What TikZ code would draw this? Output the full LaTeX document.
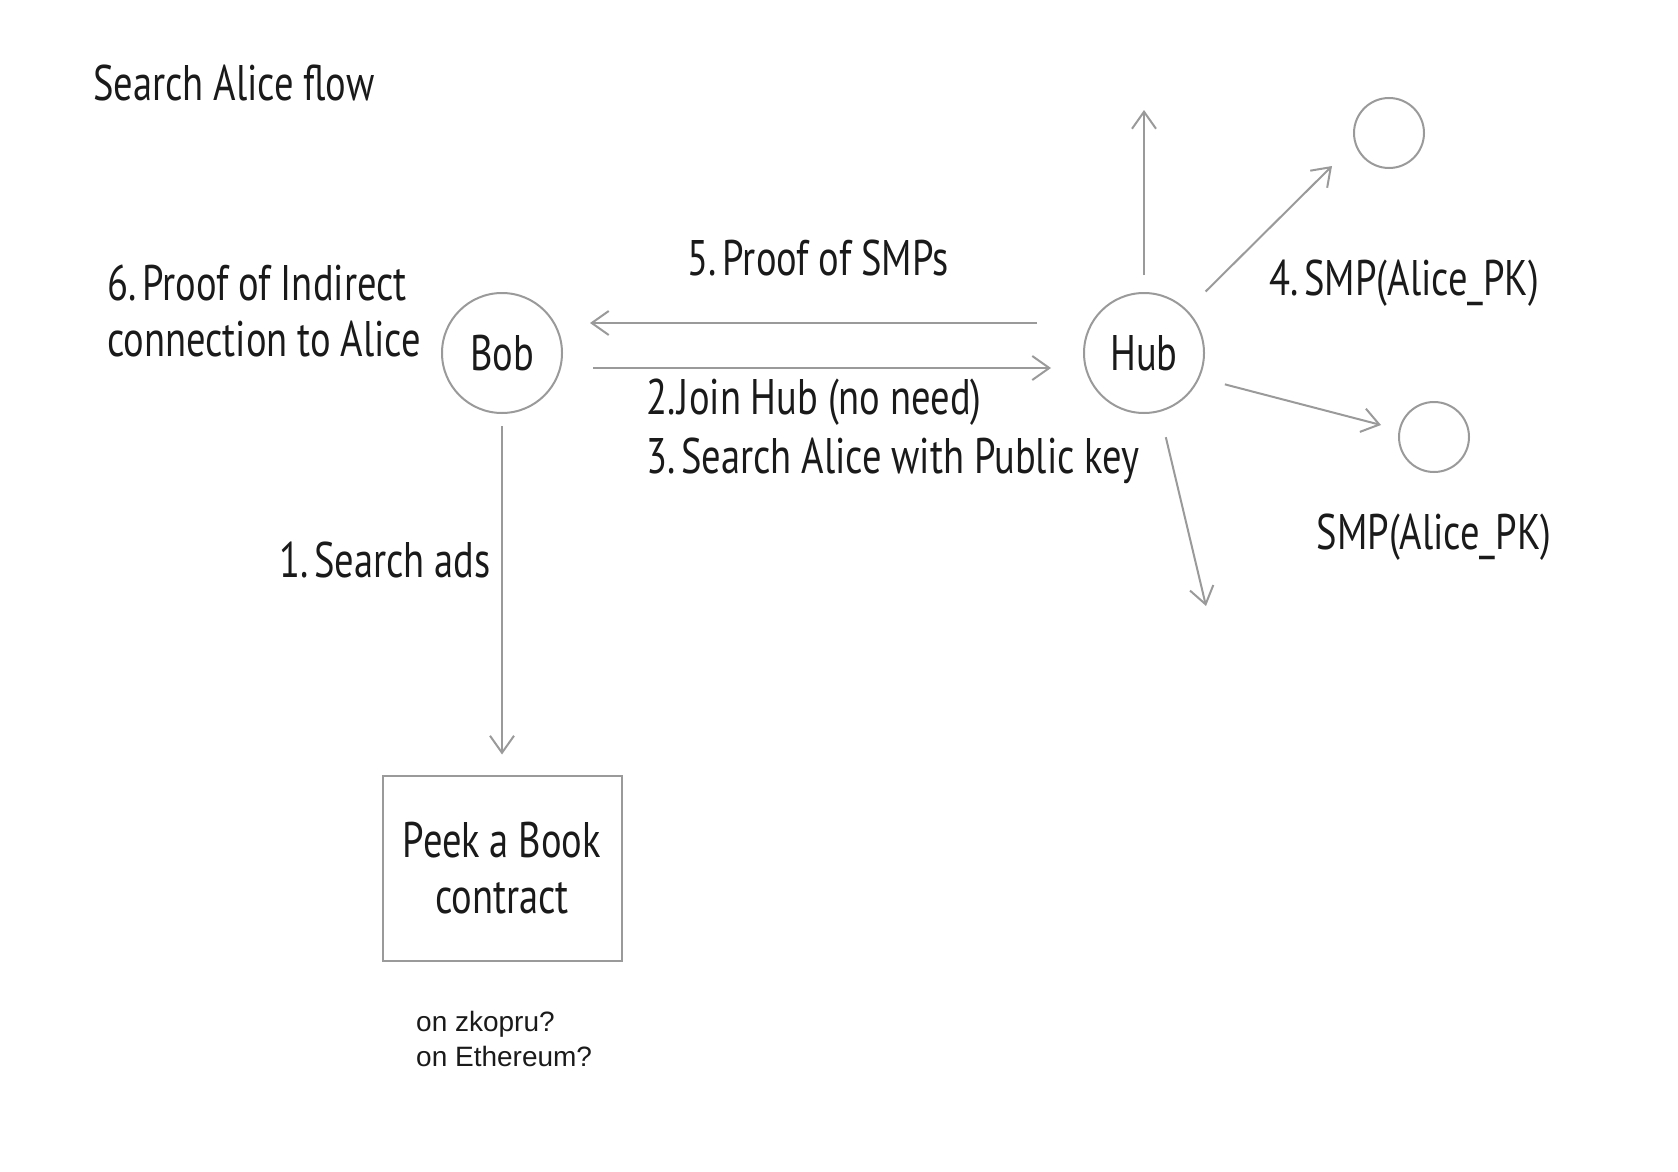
\documentclass[tikz,border=0pt]{standalone}
\usepackage{fontspec}
\setmainfont{PT Sans}[FakeStretch=0.77, WordSpace=0.95]
\newfontfamily\notefont{Liberation Sans}
\usetikzlibrary{arrows.meta}

\definecolor{linegray}{HTML}{9A9A9A}
\definecolor{inkblack}{HTML}{1A1A1A}

\tikzset{
  bigtext/.style={text=inkblack, inner sep=0pt, font=\fontsize{50}{56}\selectfont},
  peer/.style={circle, draw=linegray, line width=2pt, inner sep=0pt, minimum size=120pt, bigtext},
  leaf/.style={circle, draw=linegray, line width=2pt, inner sep=0pt, minimum size=70pt},
  contract/.style={rectangle, draw=linegray, line width=2pt, minimum width=239pt, minimum height=185pt, align=center, bigtext},
  msg/.style={draw=linegray, line width=2pt, -{Straight Barb[length=17pt,width=24pt,line width=2pt]}},
  note/.style={text=inkblack, inner sep=0pt, align=left, font=\notefont\fontsize{28}{35}\selectfont}
}

\begin{document}
\begin{tikzpicture}[x=1pt, y=-1pt]
\useasboundingbox (0,0) rectangle (1678,1172);

\node[bigtext, anchor=base west] (title) at (93,100) {Search Alice flow};

\node[peer] (Bob) at (502,353) {Bob};
\node[peer] (Hub) at (1144,353) {Hub};
\node[leaf] (leafA) at (1389,133) {};
\node[leaf] (leafB) at (1434,437) {};
\node[contract] (Book) at (502,868) {Peek a Book\\contract};

\coordinate (upEnd) at (1144,110);
\coordinate (neEnd) at (1332,166);
\coordinate (eEnd) at (1381,425);
\coordinate (dnEnd) at (1206,606);

% Bob <-> Hub
\draw[msg, shorten <=46pt, shorten >=27pt] ([yshift=30pt]Hub.west) -- ([yshift=30pt]Bob.east);
\draw[msg, shorten <=30pt, shorten >=32pt] ([yshift=-15pt]Bob.east) -- ([yshift=-15pt]Hub.west);
\draw[msg, shorten <=12pt, shorten >=20pt] (Bob.south) -- (Book.north);

% Hub fan out
\draw[msg, shorten <=17pt] (Hub.north) -- (upEnd);
\draw[msg, shorten <=26pt] (Hub.45) -- (neEnd);
\draw[msg, shorten <=26pt] (Hub.-24) -- (eEnd);
\draw[msg, shorten <=26pt] (Hub.-75) -- (dnEnd);

\node[bigtext, anchor=base west] (step6a) at (107,300) {6.\hspace{0.12em}Proof of Indirect};
\node[bigtext, anchor=base west] (step6b) at (107,356) {connection to Alice};
\node[bigtext, anchor=base] (step5) at (818,275) {5.\hspace{0.12em}Proof of SMPs};
\node[bigtext, anchor=base west] (step2) at (646,414) {2.\hspace{0.05em}Join Hub (no need)};
\node[bigtext, anchor=base west] (step3) at (646,473) {3.\hspace{0.12em}Search Alice with Public key};
\node[bigtext, anchor=base west] (step4) at (1269,295) {4.\hspace{0.12em}SMP(Alice\_PK)};
\node[bigtext, anchor=base] (smpB) at (1434,549) {SMP(Alice\_PK)};
\node[bigtext, anchor=base east] (step1) at (491,577) {1.\hspace{0.12em}Search ads};

\node[note, anchor=base west] (chain1) at (416,1031) {on zkopru?};
\node[note, anchor=base west] (chain2) at (416,1066) {on Ethereum?};
\end{tikzpicture}
\end{document}
